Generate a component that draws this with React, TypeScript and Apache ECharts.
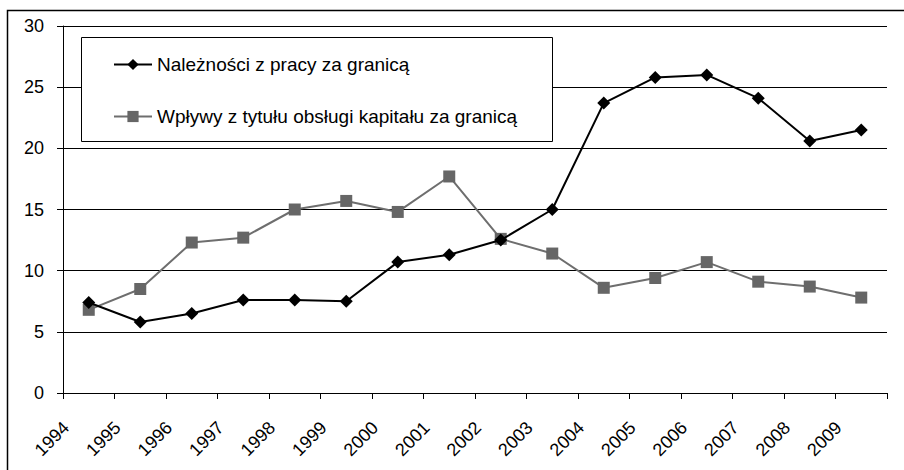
import React, { useEffect, useRef } from "react";
import * as echarts from "echarts";

const years = ["1994","1995","1996","1997","1998","1999","2000","2001","2002","2003","2004","2005","2006","2007","2008","2009"];
const naleznosci = [7.4, 5.8, 6.5, 7.6, 7.6, 7.5, 10.7, 11.3, 12.5, 15.0, 23.7, 25.8, 26.0, 24.1, 20.6, 21.5];
const wplywy = [6.8, 8.5, 12.3, 12.7, 15.0, 15.7, 14.8, 17.7, 12.6, 11.4, 8.6, 9.4, 10.7, 9.1, 8.7, 7.8];
const seriesNames = ["Należności z pracy za granicą", "Wpływy z tytułu obsługi kapitału za granicą"];

export default function App() {
  const ref = useRef<HTMLDivElement>(null);
  useEffect(() => {
    if (!ref.current) return;
    const chart = echarts.init(ref.current, undefined, { renderer: "svg" });
    const font = "Arial, 'Liberation Sans', sans-serif";
    chart.setOption({
      animation: false,
      backgroundColor: "#fff",
      grid: { left: 63, top: 26, right: 17, bottom: 77 },
      graphic: [
        { type: "rect", z: 100, silent: true, shape: { x: 7.5, y: 10.5, width: 905, height: 470 }, style: { fill: "none", stroke: "#000", lineWidth: 1.5 } },
        { type: "rect", z: 3, silent: true, shape: { x: 81.5, y: 37.5, width: 471, height: 104 }, style: { fill: "#fff", stroke: "#000", lineWidth: 1 } },
      ],
      legend: {
        z: 10,
        orient: "vertical",
        left: 113,
        top: 55,
        padding: 0,
        itemWidth: 38,
        itemHeight: 14,
        itemGap: 33,
        textStyle: { fontFamily: font, fontSize: 19, color: "#000" },
        data: seriesNames,
      },
      xAxis: {
        type: "category",
        data: years,
        boundaryGap: true,
        axisLine: { lineStyle: { color: "#000", width: 1 } },
        axisTick: { show: true, length: 6, lineStyle: { color: "#000" } },
        axisLabel: { rotate: 45, fontFamily: font, fontSize: 18, color: "#000", margin: 9, padding: [0, 32, 0, 0], interval: 0 },
        splitLine: { show: false },
      },
      yAxis: {
        type: "value",
        min: 0,
        max: 30,
        interval: 5,
        axisLine: { show: true, lineStyle: { color: "#000", width: 1 } },
        axisTick: { show: true, length: 6, lineStyle: { color: "#000" } },
        axisLabel: { fontFamily: font, fontSize: 18, color: "#000", margin: 19 },
        splitLine: { show: true, lineStyle: { color: "#000", width: 1 } },
      },
      series: [
        {
          name: seriesNames[0],
          type: "line",
          data: naleznosci,
          symbol: "diamond",
          symbolSize: 13,
          lineStyle: { color: "#000", width: 2 },
          itemStyle: { color: "#000" },
          z: 5,
        },
        {
          name: seriesNames[1],
          type: "line",
          data: wplywy,
          symbol: "rect",
          symbolSize: 12,
          lineStyle: { color: "#6e6e6e", width: 2 },
          itemStyle: { color: "#666" },
          z: 4,
        },
      ],
    });
    return () => chart.dispose();
  }, []);
  return <div ref={ref} style={{ position: "fixed", left: 0, top: 0, width: 904, height: 470 }} />;
}
